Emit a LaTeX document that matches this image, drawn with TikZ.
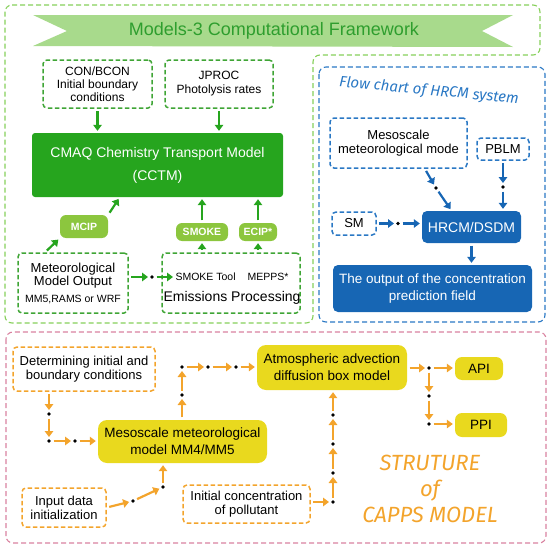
\documentclass[tikz,border=0pt]{standalone}
\usepackage{fontspec}
\setmainfont{Liberation Sans}
\newfontfamily\handfont{Fira Sans}
\usetikzlibrary{arrows.meta,calc,positioning}
\definecolor{frgreen}{HTML}{86CF5A}
\definecolor{grdark}{HTML}{3FA535}
\definecolor{grfill}{HTML}{26A51E}
\definecolor{limefill}{HTML}{8CC63E}
\definecolor{banner}{HTML}{A8DA8C}
\definecolor{titlegr}{HTML}{2E9E2E}
\definecolor{blueline}{HTML}{2A78C4}
\definecolor{bluefill}{HTML}{1766B4}
\definecolor{pinkline}{HTML}{D9819F}
\definecolor{orline}{HTML}{F3A42C}
\definecolor{yelfill}{HTML}{E9D91E}
\tikzset{
  frame line/.style={dash pattern=on 5pt off 3pt,line width=1.1pt,rounded corners=7pt},
  base box/.style={align=center,inner sep=1pt,rounded corners=4pt,font=\fontsize{13}{14}\selectfont},
  dash box/.style={base box,dash pattern=on 4.5pt off 2.5pt,line width=1.5pt},
  green box/.style={dash box,draw=grdark,font=\fontsize{12}{13}\selectfont},
  blue box/.style={dash box,draw=blueline},
  orange box/.style={dash box,draw=orline},
  cmaq box/.style={base box,fill=grfill,text=white,rounded corners=3pt,font=\fontsize{14}{17}\selectfont},
  lime box/.style={base box,fill=limefill,text=white,rounded corners=6pt,font=\bfseries\fontsize{10.5}{12}\selectfont},
  blue fill/.style={base box,fill=bluefill,text=white,rounded corners=5pt,font=\fontsize{13.5}{17}\selectfont},
  yellow box/.style={base box,fill=yelfill,rounded corners=9pt,font=\fontsize{13.5}{17}\selectfont},
  dot/.style={circle,fill=black,inner sep=0pt,minimum size=3.6pt},
  link/.style={line width=2.2pt,-{Triangle[length=6pt,width=8.5pt]},shorten <=2.5pt,shorten >=2pt},
  green arrow/.style={link,draw=grfill},
  blue arrow/.style={link,draw=bluefill},
  orange arrow/.style={link,draw=orline},
  hand/.style={font=\handfont\itshape\fontsize{15}{15}\selectfont},
}
\begin{document}
\begin{tikzpicture}[x=1pt,y=-1pt]
  \useasboundingbox (0,0) rectangle (550,549);
  % frames
  \draw[frame line,draw=frgreen] (5,5) -- (540,5) -- (540,55) -- (313,55) -- (313,323) -- (5,323) -- cycle;
  \draw[frame line,draw=blueline] (319,67) rectangle (545,322);
  \draw[frame line,draw=pinkline] (6,332) rectangle (546,543);
  % title ribbon
  \fill[banner] (33,15) -- (513,15) -- (482,31) -- (513,47) -- (33,46) -- (67,31) -- cycle;
  \node[font=\fontsize{18}{20}\selectfont,text=titlegr] (title) at (274,31) {Models-3 Computational Framework};

  % Models-3
  \node[green box,minimum width=109pt,minimum height=48pt] (con) at (97.5,84) {CON/BCON\\Initial boundary\\conditions};
  \node[green box,minimum width=108pt,minimum height=48pt,font=\fontsize{12}{14}\selectfont] (jproc) at (219,84) {JPROC\\Photolysis rates};
  \node[cmaq box,minimum width=251pt,minimum height=64pt] (cmaq) at (157.5,165) {CMAQ Chemistry Transport Model\\[6pt](CCTM)};
  \node[lime box,minimum width=48pt,minimum height=23pt] (mcip) at (84,226.5) {MCIP};
  \node[lime box,minimum width=52pt,minimum height=18pt] (smoke) at (202,232) {SMOKE};
  \node[lime box,minimum width=38pt,minimum height=18pt] (ecip) at (258,232) {ECIP*};
  \node[green box,minimum width=110pt,minimum height=60pt,font=\fontsize{13}{13}\selectfont] (met) at (73,283) {Meteorological\\Model Output\\[4pt]{\fontsize{10.5}{12}\selectfont MM5,RAMS or WRF}};
  \node[green box,minimum width=138pt,minimum height=60pt] (emis) at (231,283) {};
  \node[font=\fontsize{10.5}{12}\selectfont] (emtool) at (232,277) {SMOKE Tool\hspace{12pt}MEPPS*};
  \node[font=\fontsize{14}{14}\selectfont] (emtext) at (232,298) {Emissions Processing};
  \node[dot] (g1) at (152,277) {};
  \coordinate (emin) at (175,277);
  \draw[green arrow] (con) -- (con |- cmaq.north);
  \draw[green arrow] (jproc) -- (jproc |- cmaq.north);
  \draw[green arrow] ($(met.north west)!0.25!(met.north east)$) -- (mcip.south west);
  \draw[green arrow] (mcip.north east) -- ($(cmaq.south west)!0.35!(cmaq.south east)$);
  \draw[green arrow] (smoke |- emis.north) -- (smoke);
  \draw[green arrow] (smoke) -- (smoke |- cmaq.south);
  \draw[green arrow] (ecip |- emis.north) -- (ecip);
  \draw[green arrow] (ecip) -- (ecip |- cmaq.south);
  \draw[green arrow] (met.east |- g1) -- (g1);
  \draw[green arrow] (g1) -- (emin);

  % HRCM
  \node[hand,text=blueline,rotate=-5.5] (htitle) at (429,91) {Flow chart of HRCM system};
  \node[blue box,minimum width=137pt,minimum height=50pt] (meso) at (398.5,143) {Mesoscale\\meteorological mode};
  \node[blue box,minimum width=52pt,minimum height=22pt] (pblm) at (503,149) {PBLM};
  \node[blue box,minimum width=44pt,minimum height=23pt] (sm) at (354,223.5) {SM};
  \node[blue fill,minimum width=99pt,minimum height=32pt,font=\fontsize{14}{16}\selectfont] (hrcm) at (471.5,227) {HRCM/DSDM};
  \node[blue fill,minimum width=199pt,minimum height=47pt] (hout) at (432.5,288.5) {The output of the concentration\\prediction field};
  \node[dot] (b1) at (436,188) {};
  \node[dot] (b2) at (503,187) {};
  \node[dot] (b3) at (398,223.5) {};
  \draw[blue arrow] ($(meso.south west)!0.69!(meso.south east)$) -- (b1);
  \draw[blue arrow] (b1) -- ($(hrcm.north west)!0.3!(hrcm.north east)$);
  \draw[blue arrow] (pblm) -- (b2);
  \draw[blue arrow] (b2) -- (b2 |- hrcm.north);
  \draw[blue arrow] (sm) -- (b3);
  \draw[blue arrow] (b3) -- (b3 -| hrcm.west);
  \draw[blue arrow] (hrcm) -- (hrcm |- hout.north);

  % CAPPS
  \node[orange box,minimum width=142pt,minimum height=44pt] (det) at (84,369) {Determining initial and\\boundary conditions};
  \node[yellow box,minimum width=169pt,minimum height=43pt] (mesom) at (182.5,441.5) {Mesoscale meteorological\\model MM4/MM5};
  \node[yellow box,minimum width=150pt,minimum height=45pt] (atm) at (332,367.5) {Atmospheric advection\\diffusion box model};
  \node[orange box,minimum width=84pt,minimum height=39pt] (inp) at (64,507.5) {Input data\\initialization};
  \node[orange box,minimum width=127pt,minimum height=38pt] (ini) at (246.5,504) {Initial concentration\\of pollutant};
  \node[yellow box,minimum width=48pt,minimum height=23pt,rounded corners=7pt] (api) at (479,368.5) {API};
  \node[yellow box,minimum width=52pt,minimum height=24pt,rounded corners=7pt] (ppi) at (481,425) {PPI};
  \node[hand,text=orline,font=\handfont\itshape\fontsize{22}{26}\selectfont,align=center] (capps) at (430,489) {STRUTURE\\of\\CAPPS MODEL};
  \node[dot] (d1) at (49,414) {};
  \node[dot] (d2) at (49,441) {};
  \node[dot] (d3) at (75,441) {};
  \node[dot] (d4) at (182,395) {};
  \node[dot] (d5) at (182,367) {};
  \node[dot] (d6) at (208,367) {};
  \node[dot] (d7) at (236,367) {};
  \node[dot] (d8) at (133,501) {};
  \node[dot] (d9) at (163,487) {};
  \node[dot] (d10) at (333,502) {};
  \node[dot] (d11) at (333,473) {};
  \node[dot] (d12) at (333,444) {};
  \node[dot] (d13) at (333,415) {};
  \node[dot] (d14) at (429,368) {};
  \node[dot] (d15) at (429,396) {};
  \node[dot] (d16) at (429,424) {};
  \draw[orange arrow] (d1 |- det.south) -- (d1);
  \draw[orange arrow] (d1) -- (d2);
  \draw[orange arrow] (d2) -- (d3);
  \draw[orange arrow] (d3) -- (d3 -| mesom.west);
  \draw[orange arrow] (mesom.north -| d4) -- (d4);
  \draw[orange arrow] (d4) -- (d5);
  \draw[orange arrow] (d5) -- (d6);
  \draw[orange arrow] (d6) -- (d7);
  \draw[orange arrow] (d7) -- (d7 -| atm.west);
  \draw[orange arrow] (inp.east) -- (d8);
  \draw[orange arrow] (d8) -- (d9);
  \draw[orange arrow] (d9) -- (d9 |- mesom.south);
  \draw[orange arrow] (ini.east |- d10) -- (d10);
  \draw[orange arrow] (d10) -- (d11);
  \draw[orange arrow] (d11) -- (d12);
  \draw[orange arrow] (d12) -- (d13);
  \draw[orange arrow] (d13) -- (d13 |- atm.south);
  \draw[orange arrow] (atm.east |- d14) -- (d14);
  \draw[orange arrow] (d14) -- (d14 -| api.west);
  \draw[orange arrow] (d14) -- (d15);
  \draw[orange arrow] (d15) -- (d16);
  \draw[orange arrow] (d16) -- (d16 -| ppi.west);
\end{tikzpicture}
\end{document}
